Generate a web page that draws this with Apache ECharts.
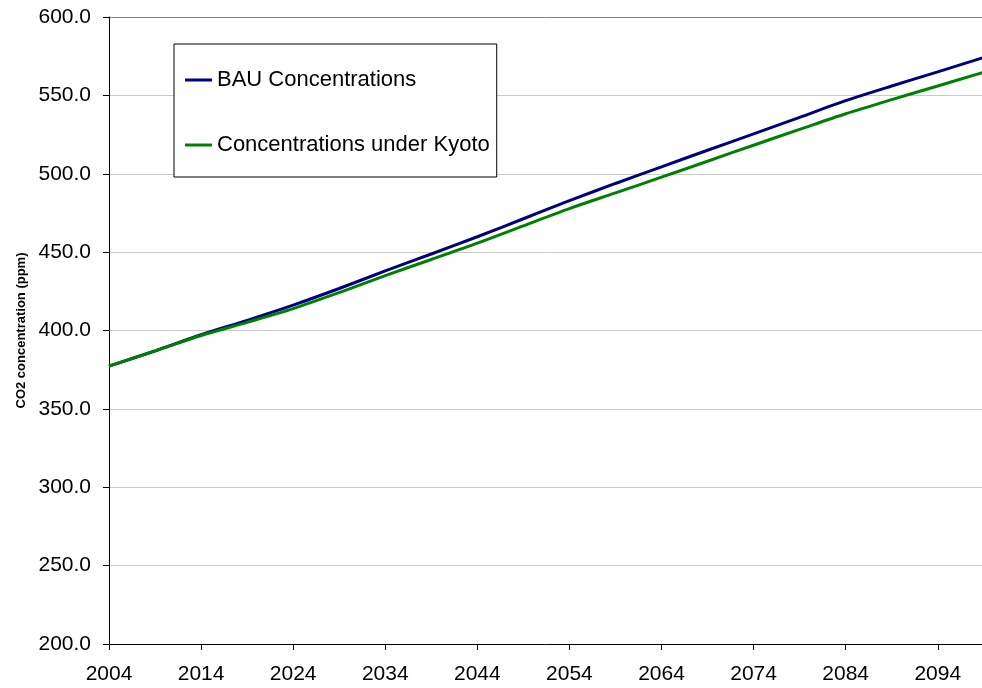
<!DOCTYPE html>
<html>
<head>
<meta charset="utf-8">
<script src="https://cdn.jsdelivr.net/npm/echarts@6/dist/echarts.min.js"></script>
<style>
  html, body { margin: 0; padding: 0; background: #fff; }
</style>
</head>
<body>
<div id="main" style="width: 982px; height: 688px"></div>
<script>
  // values
  const years = [2004, 2009, 2014, 2019, 2024, 2029, 2034, 2039, 2044, 2049, 2054, 2059, 2064, 2069, 2074, 2079, 2084, 2089, 2094, 2099]
  const bauConc = [377.3, 387.0, 397.3, 406.5, 416.2, 426.8, 438.0, 448.8, 459.8, 471.3, 482.8, 493.8, 504.4, 515.0, 525.4, 536.0, 546.6, 556.0, 565.0, 574.2]
  const kyotoConc = [377.3, 386.9, 396.8, 405.2, 414.0, 424.2, 435.0, 445.3, 455.7, 466.8, 477.8, 487.8, 497.8, 508.0, 518.2, 528.3, 538.3, 547.3, 556.0, 564.8]
  const xTickYears = [2004, 2014, 2024, 2034, 2044, 2054, 2064, 2074, 2084, 2094]
  const seriesNames = ['BAU Concentrations', 'Concentrations under Kyoto']

  const font = '"Liberation Sans", Arial, sans-serif'
  // top line of the plot area is darker than the other gridlines
  const gridColors = ['#c8c8c8', '#c8c8c8', '#c8c8c8', '#c8c8c8', '#c8c8c8', '#c8c8c8', '#c8c8c8', '#c8c8c8', '#808080']

  const chart = echarts.init(document.getElementById('main'))
  chart.setOption({
    animation: false,
    grid: {
      left: 109,
      top: 17,
      width: 876,
      bottom: 44
    },
    legend: {
      orient: 'vertical',
      left: 174,
      top: 44,
      data: seriesNames,
      icon: 'rect',
      itemWidth: 27,
      itemHeight: 3,
      itemGap: 43,
      padding: [25, 7, 21, 11],
      borderColor: '#000',
      borderWidth: 1,
      backgroundColor: '#fff',
      textStyle: { fontFamily: font, fontSize: 22, color: '#000' }
    },
    xAxis: {
      type: 'value',
      min: 2004,
      max: 2004 + 876 / 9.24,
      axisLine: { lineStyle: { color: '#000', width: 1 } },
      axisTick: { show: true, length: 6, lineStyle: { color: '#000' }, customValues: xTickYears },
      axisLabel: {
        customValues: xTickYears,
        margin: 20,
        fontFamily: font,
        fontSize: 21,
        color: '#000',
        formatter: v => String(v)
      },
      splitLine: { show: false }
    },
    yAxis: {
      type: 'value',
      min: 200,
      max: 600,
      interval: 50,
      name: 'CO2 concentration (ppm)',
      nameLocation: 'middle',
      nameRotate: 90,
      nameGap: 81,
      nameTextStyle: { fontFamily: font, fontSize: 13, fontWeight: 'bold', color: '#000' },
      axisLine: { show: true, lineStyle: { color: '#000', width: 1 } },
      axisTick: { show: true, length: 6, lineStyle: { color: '#000' } },
      axisLabel: {
        margin: 18,
        fontFamily: font,
        fontSize: 21,
        color: '#000',
        formatter: v => v.toFixed(1)
      },
      splitLine: { show: true, lineStyle: { color: gridColors, width: 1 } }
    },
    series: [
      {
        name: seriesNames[0],
        type: 'line',
        showSymbol: false,
        symbol: 'none',
        smooth: 0.3,
        data: years.map((y, i) => [y, bauConc[i]]),
        itemStyle: { color: '#000080' },
        lineStyle: { color: '#000080', width: 3 }
      },
      {
        name: seriesNames[1],
        type: 'line',
        showSymbol: false,
        symbol: 'none',
        smooth: 0.3,
        data: years.map((y, i) => [y, kyotoConc[i]]),
        itemStyle: { color: '#008000' },
        lineStyle: { color: '#008000', width: 3 }
      }
    ]
  })
</script>
</body>
</html>
